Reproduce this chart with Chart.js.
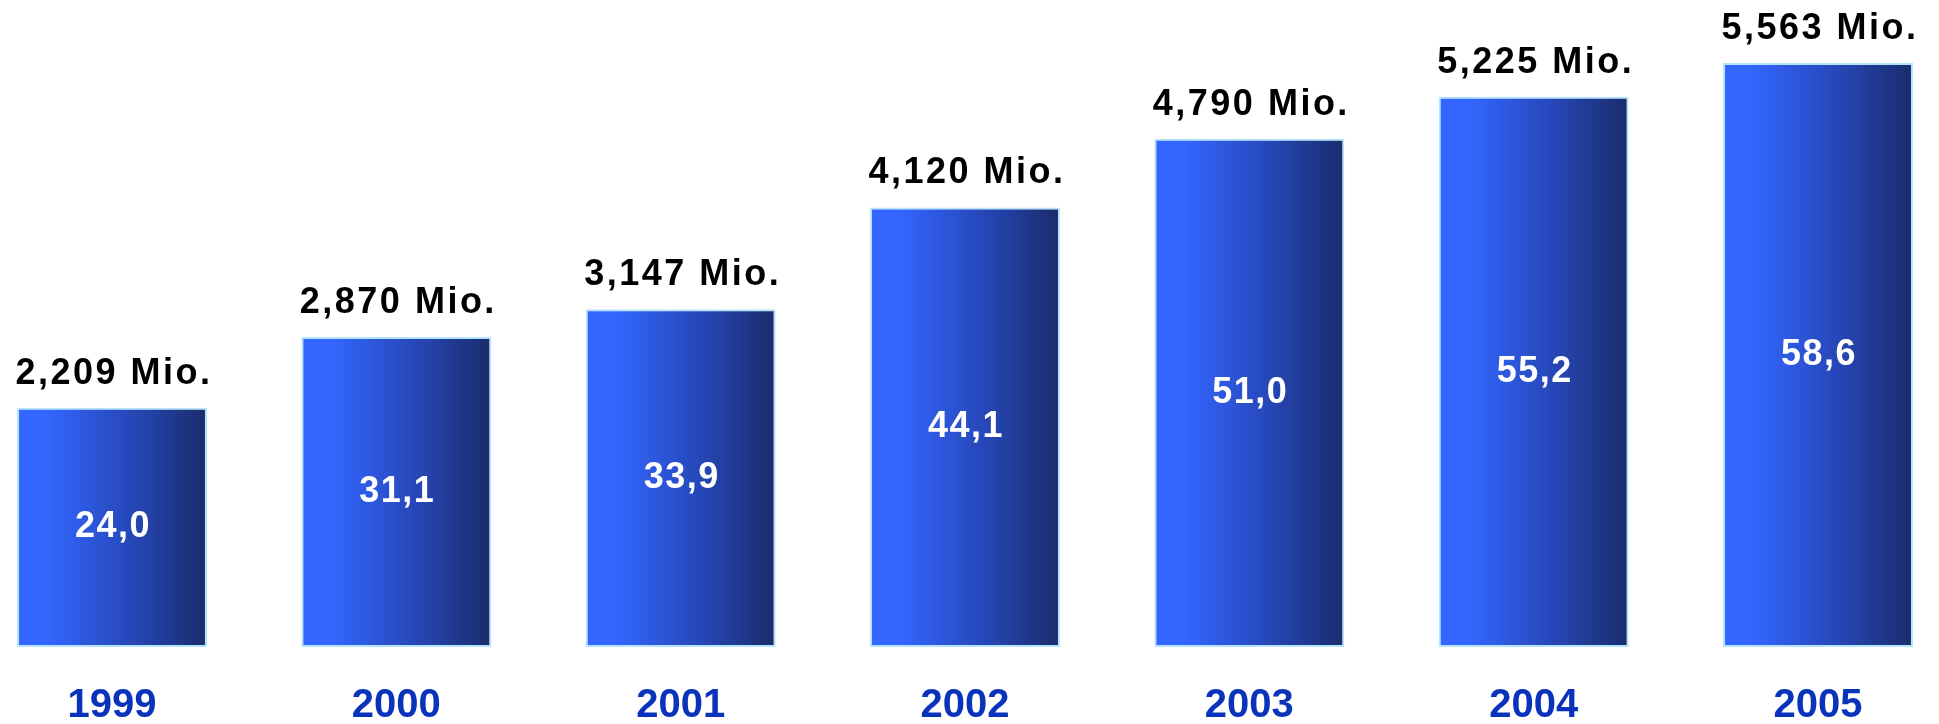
<!DOCTYPE html>
<html>
<head>
<meta charset="utf-8">
<script src="https://cdn.jsdelivr.net/npm/chart.js@4.4.1/dist/chart.umd.min.js"></script>
<style>
  html, body { margin: 0; padding: 0; background: #ffffff; overflow: hidden; }
  canvas { display: block; }
</style>
</head>
<body>
<canvas id="c" width="1939" height="724" style="width:1939px;height:724px"></canvas>
<script>
// ---- data ----
const years = ['1999', '2000', '2001', '2002', '2003', '2004', '2005'];
const values = [24.0, 31.1, 33.9, 44.1, 51.0, 55.2, 58.6];
const topLabels = ['2,209 Mio.', '2,870 Mio.', '3,147 Mio.', '4,120 Mio.', '4,790 Mio.', '5,225 Mio.', '5,563 Mio.'];

const FONT = '"Liberation Sans", Arial, sans-serif';
const BAR_PCT = 0.668;

function barGradient(context) {
  const chart = context.chart;
  const xs = chart.scales && chart.scales.x;
  if (context.type !== 'data' || !xs) return '#3366ff';
  const step = xs.getPixelForValue(1) - xs.getPixelForValue(0);
  const cx = xs.getPixelForValue(context.dataIndex);
  const half = step * BAR_PCT / 2;
  if (!isFinite(cx) || !isFinite(half) || half <= 0) return '#3366ff';
  const g = chart.ctx.createLinearGradient(cx - half, 0, cx + half, 0);
  g.addColorStop(0, '#3366ff');
  g.addColorStop(0.16, '#3366ff');
  g.addColorStop(0.6, '#2647b8');
  g.addColorStop(1, '#1a2c6b');
  return g;
}

const labelPlugin = {
  id: 'barLabels',
  afterDatasetsDraw(chart) {
    const ctx = chart.ctx;
    const meta = chart.getDatasetMeta(0);
    ctx.save();
    ctx.textAlign = 'center';
    meta.data.forEach((bar, i) => {
      ctx.font = 'bold 36px ' + FONT;
      ctx.letterSpacing = '2.5px';
      ctx.fillStyle = '#000000';
      ctx.textBaseline = 'alphabetic';
      ctx.fillText(topLabels[i], bar.x + 2, bar.y - 24);
      ctx.letterSpacing = '1.5px';
      ctx.fillStyle = '#ffffff';
      ctx.textBaseline = 'middle';
      const txt = values[i].toFixed(1).replace('.', ',');
      ctx.fillText(txt, bar.x + 1, (bar.y + bar.base) / 2);
    });
    ctx.restore();
  }
};

new Chart(document.getElementById('c'), {
  type: 'bar',
  data: {
    labels: years,
    datasets: [{
      data: values,
      backgroundColor: barGradient,
      borderColor: '#b4e4fb',
      borderWidth: 2,
      borderSkipped: false,
      categoryPercentage: 1,
      barPercentage: BAR_PCT,
      clip: false
    }]
  },
  options: {
    responsive: false,
    animation: false,
    devicePixelRatio: 1,
    layout: { padding: { left: 112, right: 121, top: 0, bottom: 0 } },
    plugins: {
      legend: { display: false },
      tooltip: { enabled: false }
    },
    scales: {
      x: {
        offset: false,
        grid: { display: false, drawTicks: false },
        border: { display: false },
        afterFit(scale) { scale.height = 77; },
        ticks: {
          color: '#0a33bb',
          padding: 39,
          maxRotation: 0,
          autoSkip: false,
          font: { family: FONT, size: 40, weight: 'bold', lineHeight: 1.0 }
        }
      },
      y: {
        display: false,
        min: 0,
        max: 64.92
      }
    }
  },
  plugins: [labelPlugin]
});
</script>
</body>
</html>
